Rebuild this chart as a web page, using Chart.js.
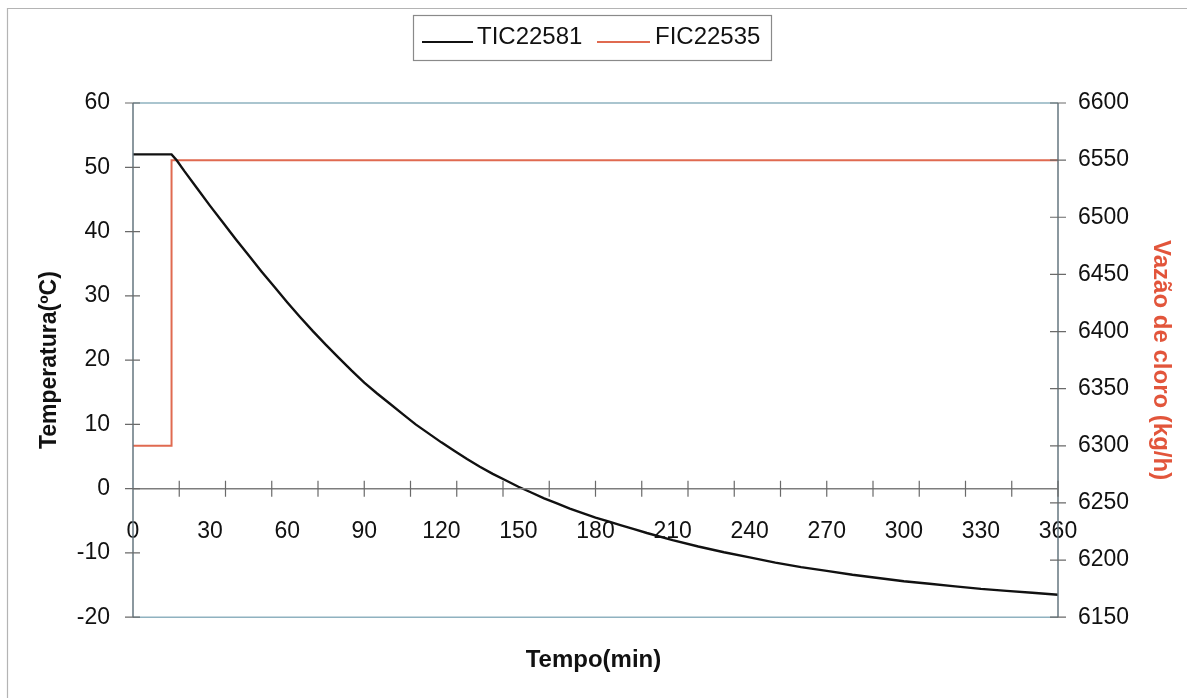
<!DOCTYPE html>
<html>
<head>
<meta charset="utf-8">
<script src="https://cdn.jsdelivr.net/npm/chart.js@4/dist/chart.umd.min.js"></script>
<style>
  html, body { margin: 0; padding: 0; background: #ffffff; }
  #wrap { width: 1187px; height: 698px; position: relative; }
</style>
</head>
<body>
<div id="wrap"><canvas id="c" width="1187" height="698"></canvas></div>
<script>
// ---- data ----
const timeMin = [0, 10, 15, 17, 20, 25, 30, 35, 40, 45, 50, 55, 60, 65, 70, 75, 80, 85, 90, 95, 100, 105, 110, 115, 120, 125, 130, 135, 140, 145, 150, 155, 160, 165, 170, 175, 180, 185, 190, 195, 200, 210, 220, 230, 240, 250, 260, 270, 280, 290, 300, 310, 320, 330, 340, 350, 360];
const tic22581 = [52, 52, 52, 51.1, 49.4, 46.7, 44.0, 41.4, 38.8, 36.3, 33.8, 31.4, 29.0, 26.7, 24.5, 22.4, 20.4, 18.4, 16.5, 14.8, 13.2, 11.6, 10.0, 8.6, 7.2, 5.9, 4.6, 3.4, 2.3, 1.3, 0.3, -0.6, -1.5, -2.3, -3.1, -3.8, -4.5, -5.1, -5.7, -6.3, -6.9, -8.0, -9.0, -9.9, -10.7, -11.5, -12.2, -12.8, -13.4, -13.9, -14.4, -14.8, -15.2, -15.6, -15.9, -16.2, -16.5];
const ficTime = [0, 15, 15, 360];
const fic22535 = [6300, 6300, 6550, 6550];
const xTickLabels = [0, 30, 60, 90, 120, 150, 180, 210, 240, 270, 300, 330, 360];
const yTickLabels = [-20, -10, 0, 10, 20, 30, 40, 50, 60];
const y2TickLabels = [6150, 6200, 6250, 6300, 6350, 6400, 6450, 6500, 6550, 6600];
const seriesNames = ['TIC22581', 'FIC22535'];

const FONT = "'Liberation Sans', Arial, sans-serif";
const RED = '#e06a50';

const deco = {
  id: 'deco',
  beforeDraw(chart) {
    const ctx = chart.ctx;
    ctx.save();
    ctx.fillStyle = '#ffffff';
    ctx.fillRect(0, 0, chart.width, chart.height);
    ctx.restore();
  },
  afterDraw(chart) {
    const {ctx, chartArea: a, scales} = chart;
    const xs = scales.x, ys = scales.y, y2s = scales.y2;
    ctx.save();
    // outer chart border (left and top visible)
    ctx.strokeStyle = '#b4b4b4';
    ctx.lineWidth = 1.2;
    ctx.beginPath();
    ctx.moveTo(7.5, 698); ctx.lineTo(7.5, 8.5); ctx.lineTo(1187, 8.5);
    ctx.stroke();
    // plot area top and bottom border
    ctx.strokeStyle = '#8fb2c0';
    ctx.lineWidth = 1.5;
    ctx.beginPath();
    ctx.moveTo(a.left, a.top); ctx.lineTo(a.right, a.top);
    ctx.moveTo(a.left, a.bottom); ctx.lineTo(a.right, a.bottom);
    ctx.stroke();
    // vertical axes
    ctx.strokeStyle = '#667780';
    ctx.lineWidth = 1.5;
    ctx.beginPath();
    ctx.moveTo(a.left, a.top); ctx.lineTo(a.left, a.bottom);
    ctx.moveTo(a.right, a.top); ctx.lineTo(a.right, a.bottom);
    ctx.stroke();
    // x axis at y = 0
    const y0 = ys.getPixelForValue(0);
    ctx.strokeStyle = '#7d7d7d';
    ctx.beginPath();
    ctx.moveTo(a.left, y0); ctx.lineTo(a.right, y0);
    ctx.stroke();
    // tick marks (crossing)
    ctx.lineWidth = 1.2;
    ctx.strokeStyle = '#6a6a6a';
    ctx.beginPath();
    for (let v = 18; v <= 360; v += 18) {
      const px = xs.getPixelForValue(v);
      ctx.moveTo(px, y0 - 8); ctx.lineTo(px, y0 + 8);
    }
    ys.ticks.forEach(t => {
      const py = ys.getPixelForValue(t.value);
      ctx.moveTo(a.left - 8, py); ctx.lineTo(a.left + 7, py);
    });
    y2s.ticks.forEach(t => {
      const py = y2s.getPixelForValue(t.value);
      ctx.moveTo(a.right - 8, py); ctx.lineTo(a.right + 8, py);
    });
    ctx.stroke();
    // legend
    const lx = 413.5, ly = 15.5, lw = 358, lh = 45;
    ctx.strokeStyle = '#8a8a8a';
    ctx.lineWidth = 1.2;
    ctx.strokeRect(lx, ly, lw, lh);
    ctx.font = '24px ' + FONT;
    ctx.textBaseline = 'middle';
    ctx.textAlign = 'left';
    const items = [
      {x1: 422, x2: 473, tx: 477},
      {x1: 597, x2: 650, tx: 655}
    ];
    chart.data.datasets.forEach((ds, i) => {
      const it = items[i];
      ctx.strokeStyle = ds.borderColor;
      ctx.lineWidth = 2;
      ctx.beginPath();
      ctx.moveTo(it.x1, 42); ctx.lineTo(it.x2, 42);
      ctx.stroke();
      ctx.fillStyle = '#111';
      ctx.fillText(ds.label, it.tx, 37);
    });
    ctx.restore();
  }
};

const plainNum = v => String(v);

new Chart(document.getElementById('c'), {
  type: 'line',
  data: {
    datasets: [
      {
        label: seriesNames[0],
        data: timeMin.map((t, i) => ({x: t, y: tic22581[i]})),
        borderColor: '#111111',
        borderWidth: 2.4,
        pointRadius: 0,
        tension: 0,
        yAxisID: 'y'
      },
      {
        label: seriesNames[1],
        data: ficTime.map((t, i) => ({x: t, y: fic22535[i]})),
        borderColor: RED,
        borderWidth: 2,
        pointRadius: 0,
        tension: 0,
        yAxisID: 'y2'
      }
    ]
  },
  options: {
    responsive: false,
    animation: false,
    layout: { padding: { top: 103, left: 0, right: 0, bottom: 0 } },
    plugins: {
      legend: { display: false },
      tooltip: { enabled: false },
      title: {
        display: true,
        text: 'Tempo(min)',
        position: 'bottom',
        color: '#111',
        font: { family: FONT, size: 24, weight: 'bold' },
        padding: { top: 29, bottom: 23 }
      }
    },
    scales: {
      x: {
        type: 'linear',
        position: { y: 0 },
        min: 0, max: 360,
        afterBuildTicks: s => { s.ticks = xTickLabels.map(v => ({value: v})); },
        grid: { display: false, drawTicks: false },
        border: { display: false },
        ticks: { color: '#111', font: { family: FONT, size: 23 }, padding: 29, maxRotation: 0, autoSkip: false, callback: plainNum }
      },
      y: {
        type: 'linear',
        position: 'left',
        min: -20, max: 60,
        afterBuildTicks: s => { s.ticks = yTickLabels.map(v => ({value: v})); },
        afterFit: s => { s.width = 133; },
        grid: { display: false, drawTicks: false },
        border: { display: false },
        ticks: { color: '#111', font: { family: FONT, size: 23 }, padding: 23, callback: plainNum },
        title: {
          display: true,
          text: 'Temperatura(ºC)',
          color: '#111',
          font: { family: FONT, size: 23, weight: 'bold' },
          padding: { top: 36, bottom: 0 }
        }
      },
      y2: {
        type: 'linear',
        position: 'right',
        min: 6150, max: 6600,
        afterBuildTicks: s => { s.ticks = y2TickLabels.map(v => ({value: v})); },
        afterFit: s => { s.width = 129; },
        grid: { display: false, drawTicks: false },
        border: { display: false },
        ticks: { color: '#111', font: { family: FONT, size: 23 }, padding: 20, callback: plainNum },
        title: {
          display: true,
          text: 'Vazão de cloro (kg/h)',
          color: '#e2553b',
          font: { family: FONT, size: 24, weight: 'bold' },
          padding: { top: 12, bottom: 0 }
        }
      }
    }
  },
  plugins: [deco]
});
</script>
</body>
</html>
